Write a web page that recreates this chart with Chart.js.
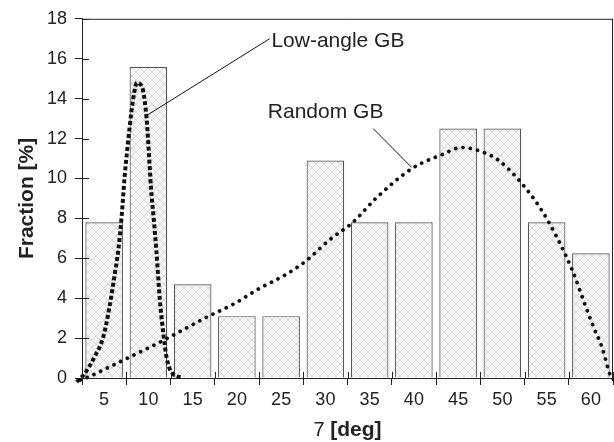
<!DOCTYPE html>
<html>
<head>
<meta charset="utf-8">
<script src="https://cdn.jsdelivr.net/npm/chart.js@4"></script>
<style>
  body { margin: 0; background: #fff; }
  canvas { display: block; }
</style>
</head>
<body>
<canvas id="gbChart" width="614" height="442"></canvas>
<script>
// histogram bins (deg) and fraction of boundaries in each bin
const angleLabels = ['5', '10', '15', '20', '25', '30', '35', '40', '45', '50', '55', '60'];
const binFractions = [7.8, 15.6, 4.7, 3.1, 3.1, 10.9, 7.8, 7.8, 12.5, 12.5, 7.8, 6.25];

// low-angle GB curve
const lowAngleX = [1.9, 2.8, 3.9, 4.9, 5.6, 6.2, 6.6, 7.0, 7.3, 7.65, 8.1, 8.4, 8.7, 9.0, 9.4, 9.8, 10.0, 10.3, 10.6, 10.9, 11.3, 11.7, 12.05, 12.6, 13.9];
const lowAngleY = [-0.2, 0.22, 1.05, 2.05, 3.55, 5.2, 6.4, 8.2, 10.0, 11.6, 13.4, 14.3, 14.8, 14.75, 14.4, 13.0, 11.7, 9.5, 8.0, 6.4, 3.9, 2.2, 1.05, 0.3, 0];

// random GB curve
const randomX = [2.3, 3.2, 5.6, 7.9, 10.2, 12.4, 16.6, 19.6, 22.6, 25.6, 27.9, 30.4, 33.1, 35.7, 39.8, 43.2, 45.4, 47.9, 49.6, 52.1, 54.3, 56.1, 57.9, 59.4, 60.3, 61.25, 62.2, 62.6];
const randomY = [-0.1, 0.05, 0.55, 1.05, 1.55, 2.05, 3.05, 3.7, 4.5, 5.2, 5.9, 6.9, 7.8, 9.0, 10.5, 11.2, 11.55, 11.3, 10.9, 9.8, 8.5, 7.1, 5.4, 3.6, 2.55, 1.55, 0.13, -0.1];

const FONT = "'Liberation Sans', Arial, Helvetica, sans-serif";
Chart.defaults.font.family = FONT;

// crosshatch fill for the bars
function makeHatch() {
    const c = document.createElement('canvas');
    c.width = 8; c.height = 8;
    const g = c.getContext('2d');
    g.fillStyle = '#f5f5f5';
    g.fillRect(0, 0, 8, 8);
    g.strokeStyle = '#dadada';
    g.lineWidth = 1;
    g.beginPath();
    g.moveTo(0, 0); g.lineTo(8, 8);
    g.moveTo(8, 0); g.lineTo(0, 8);
    g.stroke();
    return g.createPattern(c, 'repeat');
}

// callout labels, anchored in data units on the hidden linear axis
const callouts = [
    { text: 'Low-angle GB', at: [23.9, 16.9], from: [9.97, 13.2], to: [23.7, 17.0] },
    { text: 'Random GB', at: [23.5, 13.3], from: [39.76, 10.55], to: [35.4, 12.5] }
];

const toPoints = (xs, ys) => xs.map((x, i) => ({ x: x, y: ys[i] }));

const framePlugin = {
    id: 'frame',
    afterDraw(chart) {
        const ctx = chart.ctx;
        const a = chart.chartArea;
        const x2 = chart.scales.x2;
        const y = chart.scales.y;
        ctx.save();
        ctx.strokeStyle = '#222';
        ctx.lineWidth = 1;
        ctx.beginPath();
        // top and right edges of the box
        ctx.moveTo(a.left, a.top + 0.5); ctx.lineTo(a.right, a.top + 0.5);
        ctx.moveTo(a.right - 0.5, a.top); ctx.lineTo(a.right - 0.5, a.bottom);
        // inward tick marks
        for (let v = 2.5; v <= 62.5; v += 5) {
            const px = Math.round(x2.getPixelForValue(v)) + 0.5;
            ctx.moveTo(px, a.bottom); ctx.lineTo(px, a.bottom - 6);
        }
        y.ticks.forEach(t => {
            const py = Math.round(y.getPixelForValue(t.value)) + 0.5;
            ctx.moveTo(a.left, py); ctx.lineTo(a.left + 7, py);
        });
        ctx.stroke();

        // callouts
        ctx.strokeStyle = '#111';
        ctx.beginPath();
        callouts.forEach(c => {
            ctx.moveTo(x2.getPixelForValue(c.from[0]), y.getPixelForValue(c.from[1]));
            ctx.lineTo(x2.getPixelForValue(c.to[0]), y.getPixelForValue(c.to[1]));
        });
        ctx.stroke();
        ctx.fillStyle = '#222';
        ctx.font = '21px ' + FONT;
        ctx.textBaseline = 'middle';
        ctx.textAlign = 'left';
        callouts.forEach(c => {
            ctx.fillText(c.text, x2.getPixelForValue(c.at[0]), y.getPixelForValue(c.at[1]));
        });

        // x axis title: symbol in normal weight, unit in bold
        const sym = '7 ';
        const unit = '[deg]';
        ctx.font = '20px ' + FONT;
        const w1 = ctx.measureText(sym).width;
        ctx.font = 'bold 21px ' + FONT;
        const w2 = ctx.measureText(unit).width;
        let tx = (a.left + a.right) / 2 - (w1 + w2) / 2;
        const ty = 430;
        ctx.font = '20px ' + FONT;
        ctx.fillText(sym, tx, ty);
        ctx.font = 'bold 21px ' + FONT;
        ctx.fillText(unit, tx + w1, ty);
        ctx.restore();
    }
};

const ctx = document.getElementById('gbChart').getContext('2d');

new Chart(ctx, {
    type: 'bar',
    data: {
        labels: angleLabels,
        datasets: [
            {
                label: 'Low-angle GB',
                type: 'line',
                xAxisID: 'x2',
                data: toPoints(lowAngleX, lowAngleY),
                borderColor: '#111',
                borderWidth: 4,
                borderDash: [4, 2.5],
                borderCapStyle: 'butt',
                cubicInterpolationMode: 'monotone',
                pointRadius: 0,
                fill: false,
                clip: false,
                order: 1
            },
            {
                label: 'Random GB',
                type: 'line',
                xAxisID: 'x2',
                data: toPoints(randomX, randomY),
                borderColor: '#111',
                borderWidth: 3.8,
                borderDash: [0.01, 7.4],
                borderCapStyle: 'round',
                cubicInterpolationMode: 'monotone',
                pointRadius: 0,
                fill: false,
                clip: false,
                order: 1
            },
            {
                label: 'Fraction',
                xAxisID: 'x',
                data: binFractions,
                backgroundColor: makeHatch(),
                borderColor: '#555',
                borderWidth: 1.2,
                barPercentage: 0.85,
                categoryPercentage: 1,
                grouped: false,
                order: 2
            }
        ]
    },
    options: {
        responsive: false,
        animation: false,
        layout: { padding: { top: 18, right: 1, left: 0, bottom: 0 } },
        plugins: {
            legend: { display: false },
            tooltip: { enabled: false }
        },
        scales: {
            x: {
                type: 'category',
                offset: true,
                grid: {
                    offset: true,
                    drawOnChartArea: false,
                    tickLength: 7,
                    color: '#222'
                },
                border: { color: '#222', width: 1 },
                ticks: {
                    color: '#222',
                    font: { size: 18 },
                    padding: 4,
                    maxRotation: 0
                },
                afterFit: s => { s.height = 64; }
            },
            x2: {
                type: 'linear',
                display: false,
                offset: false,
                min: 2.5,
                max: 62.5
            },
            y: {
                min: 0,
                max: 18,
                ticks: {
                    stepSize: 2,
                    color: '#222',
                    font: { size: 18 },
                    padding: 8
                },
                grid: {
                    drawOnChartArea: false,
                    tickLength: 7,
                    color: '#222'
                },
                border: { color: '#222', width: 1 },
                title: {
                    display: true,
                    text: 'Fraction [%]',
                    color: '#222',
                    font: { size: 21, weight: 'bold' },
                    padding: { top: 15, bottom: 0 }
                },
                afterFit: s => { s.width = 82; }
            }
        }
    },
    plugins: [framePlugin]
});
</script>
</body>
</html>
